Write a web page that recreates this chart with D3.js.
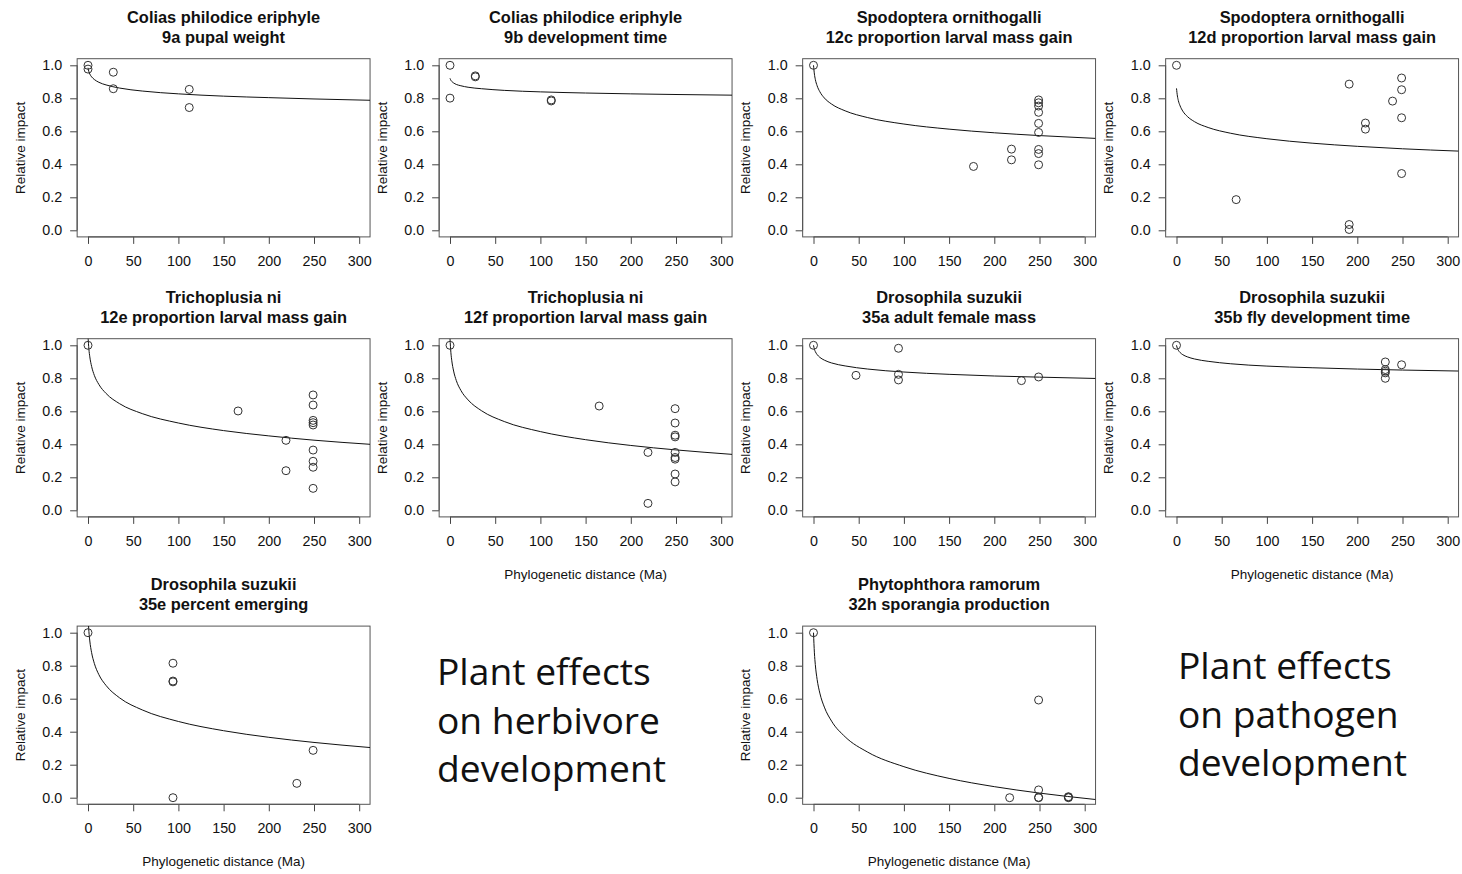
<!DOCTYPE html>
<html>
<head>
<meta charset="utf-8">
<script src="https://cdn.jsdelivr.net/npm/d3@7"></script>
<style>
  html, body { margin: 0; padding: 0; background: #fff; }
  svg { display: block; }
  text { font-family: "Liberation Sans", Arial, Helvetica, sans-serif; fill: #111; }
</style>
</head>
<body>
<script>
// ---------------- data ----------------
const titleSpecies = [
  "Colias philodice eriphyle", "Colias philodice eriphyle",
  "Spodoptera ornithogalli", "Spodoptera ornithogalli",
  "Trichoplusia ni", "Trichoplusia ni",
  "Drosophila suzukii", "Drosophila suzukii",
  "Drosophila suzukii", "Phytophthora ramorum"
];
const titleTrait = [
  "9a pupal weight", "9b development time",
  "12c proportion larval mass gain", "12d proportion larval mass gain",
  "12e proportion larval mass gain", "12f proportion larval mass gain",
  "35a adult female mass", "35b fly development time",
  "35e percent emerging", "32h sporangia production"
];
const pointsX = [
  [0, 0, 28, 28, 112, 112],
  [0, 0, 28, 28, 112, 112],
  [0, 177, 219, 219, 249, 249, 249, 249, 249, 249, 249, 249, 249],
  [0, 66, 191, 191, 191, 209, 209, 239, 249, 249, 249, 249],
  [0, 166, 219, 219, 249, 249, 249, 249, 249, 249, 249, 249, 249],
  [0, 165, 219, 219, 249, 249, 249, 249, 249, 249, 249, 249, 249],
  [0, 47, 94, 94, 94, 230, 249],
  [0, 231, 231, 231, 231, 231, 249],
  [0, 94, 94, 94, 94, 231, 249],
  [0, 217, 249, 249, 249, 249, 282, 282, 282]
];
const pointsY = [
  [1.0, 0.977, 0.958, 0.858, 0.854, 0.744],
  [1.0, 0.801, 0.936, 0.930, 0.790, 0.784],
  [1.0, 0.387, 0.492, 0.427, 0.79, 0.773, 0.753, 0.715, 0.648, 0.593, 0.49, 0.465, 0.397],
  [1.0, 0.186, 0.886, 0.035, 0.005, 0.650, 0.613, 0.783, 0.923, 0.852, 0.682, 0.344],
  [1.0, 0.602, 0.424, 0.240, 0.699, 0.638, 0.545, 0.531, 0.517, 0.365, 0.297, 0.261, 0.133],
  [1.0, 0.632, 0.351, 0.042, 0.616, 0.529, 0.455, 0.445, 0.351, 0.32, 0.31, 0.22, 0.172],
  [1.0, 0.818, 0.982, 0.824, 0.790, 0.786, 0.808],
  [1.0, 0.899, 0.853, 0.843, 0.833, 0.800, 0.882],
  [1.0, 0.815, 0.707, 0.702, 0.0, 0.087, 0.287],
  [1.0, 0.0, 0.592, 0.047, 0.0, 0.002, 0.003, 0.006, 0.0]
];
// fitted curve, read at these distances
const curveX = [0, 1, 2, 4, 7, 12, 20, 35, 60, 100, 150, 200, 250, 312];
const curveY = [
  [0.985, 0.961, 0.947, 0.930, 0.914, 0.897, 0.881, 0.862, 0.844, 0.827, 0.813, 0.804, 0.796, 0.788],
  [0.921, 0.909, 0.902, 0.893, 0.884, 0.876, 0.867, 0.858, 0.848, 0.839, 0.832, 0.827, 0.823, 0.819],
  [1.0, 0.947, 0.915, 0.876, 0.840, 0.802, 0.765, 0.724, 0.683, 0.644, 0.613, 0.591, 0.574, 0.557],
  [0.860, 0.814, 0.787, 0.754, 0.722, 0.690, 0.658, 0.623, 0.588, 0.555, 0.528, 0.509, 0.494, 0.480],
  [1.055, 0.976, 0.930, 0.872, 0.818, 0.763, 0.708, 0.646, 0.586, 0.529, 0.483, 0.451, 0.425, 0.400],
  [1.04, 0.955, 0.906, 0.844, 0.786, 0.727, 0.669, 0.603, 0.538, 0.477, 0.428, 0.393, 0.366, 0.339],
  [1.0, 0.976, 0.962, 0.944, 0.927, 0.910, 0.893, 0.875, 0.856, 0.838, 0.824, 0.814, 0.807, 0.799],
  [1.0, 0.981, 0.970, 0.956, 0.943, 0.930, 0.917, 0.903, 0.888, 0.874, 0.864, 0.856, 0.850, 0.844],
  [1.103, 1.007, 0.950, 0.879, 0.814, 0.746, 0.680, 0.605, 0.532, 0.462, 0.406, 0.366, 0.335, 0.304],
  [1.0, 0.878, 0.807, 0.717, 0.634, 0.549, 0.464, 0.369, 0.276, 0.188, 0.117, 0.067, 0.028, -0.011]
];
const xTicks = [0, 50, 100, 150, 200, 250, 300];
const yTicks = [0, 0.2, 0.4, 0.6, 0.8, 1.0];
const xAxisTitle = "Phylogenetic distance (Ma)";
const yAxisTitle = "Relative impact";
const panelsWithXTitle = [5, 7, 8, 9];
const noteHerbivore = ["Plant effects", "on herbivore", "development"];
const notePathogen = ["Plant effects", "on pathogen", "development"];

// ---------------- layout ----------------
const W = 1462, H = 874;
const panelCol = [0, 1, 2, 3, 0, 1, 2, 3, 0, 2];
const panelRow = [0, 0, 0, 0, 1, 1, 1, 1, 2, 2];
const colX0 = [88, 450, 813.5, 1176.5];   // pixel of x = 0
const rowY1 = [65.3, 345.3, 632.7];        // pixel of y = 1.0
const pxPerX = 0.904, pxPerY = 165;
const labFont = 13.5, tickFont = 14.3;

const svg = d3.select("body").append("svg").attr("width", W).attr("height", H);

titleSpecies.forEach((sp, i) => {
  const c = panelCol[i], r = panelRow[i];
  const x = d3.scaleLinear().domain([-12, 312]).range([colX0[c] - 12 * pxPerX, colX0[c] + 312 * pxPerX]);
  const y = d3.scaleLinear().domain([-0.04, 1.04]).range([rowY1[r] + 1.04 * pxPerY, rowY1[r] - 0.04 * pxPerY]);
  const [x0, x1] = x.range();
  const [yb, yt] = y.range();
  const g = svg.append("g");

  // clip
  const cid = "clip" + i;
  svg.append("clipPath").attr("id", cid).append("rect")
    .attr("x", x0).attr("y", yt).attr("width", x1 - x0).attr("height", yb - yt);

  // axes (R-style: ticks outward)
  const xa = g.append("g").attr("transform", `translate(0,${yb})`)
    .call(d3.axisBottom(x).tickValues(xTicks).tickSize(7).tickPadding(12).tickFormat(d3.format("d")));
  const ya = g.append("g").attr("transform", `translate(${x0},0)`)
    .call(d3.axisLeft(y).tickValues(yTicks).tickSize(7).tickPadding(8).tickFormat(d3.format(".1f")));
  [xa, ya].forEach(a => {
    a.select(".domain").remove();
    a.selectAll(".tick line").attr("stroke", "#444").attr("stroke-width", 1);
    a.selectAll(".tick text").attr("font-size", tickFont).attr("fill", "#222")
      .style("font-family", '"Liberation Sans", Arial, sans-serif');
  });
  g.append("line").attr("x1", x(0)).attr("x2", x(300)).attr("y1", yb).attr("y2", yb).attr("stroke", "#444");
  g.append("line").attr("x1", x0).attr("x2", x0).attr("y1", y(0)).attr("y2", y(1)).attr("stroke", "#444");

  // box
  g.append("rect").attr("x", x0).attr("y", yt).attr("width", x1 - x0).attr("height", yb - yt)
    .attr("fill", "none").attr("stroke", "#555").attr("stroke-width", 1);

  // curve
  const line = d3.line().x(d => x(d[0])).y(d => y(d[1])).curve(d3.curveMonotoneX);
  g.append("path").attr("clip-path", `url(#${cid})`)
    .datum(curveX.map((cx, k) => [cx, curveY[i][k]]))
    .attr("d", line).attr("fill", "none").attr("stroke", "#111").attr("stroke-width", 1);

  // points
  g.selectAll("circle.pt").data(pointsX[i].map((px, k) => [px, pointsY[i][k]]))
    .join("circle").attr("class", "pt")
    .attr("cx", d => x(d[0])).attr("cy", d => y(d[1])).attr("r", 4)
    .attr("fill", "none").attr("stroke", "#333").attr("stroke-width", 1);

  // titles
  const cx = (x0 + x1) / 2;
  g.append("text").attr("x", cx).attr("y", rowY1[r] - 48.3).attr("dy", "0.35em")
    .attr("text-anchor", "middle").attr("font-weight", "bold").attr("font-size", 16.4).text(sp);
  g.append("text").attr("x", cx).attr("y", rowY1[r] - 28.3).attr("dy", "0.35em")
    .attr("text-anchor", "middle").attr("font-weight", "bold").attr("font-size", 16.4).text(titleTrait[i]);

  // y title
  g.append("text").attr("transform", `translate(${x0 - 57},${(yt + yb) / 2}) rotate(-90)`)
    .attr("dy", "0.35em").attr("text-anchor", "middle").attr("font-size", labFont).text(yAxisTitle);

  // x title
  if (panelsWithXTitle.includes(i)) {
    g.append("text").attr("x", (x(0) + x(300)) / 2).attr("y", y(0) + 64).attr("dy", "0.35em")
      .attr("text-anchor", "middle").attr("font-size", labFont).text(xAxisTitle);
  }
});

// notes
function note(lines, x, y0) {
  const t = svg.append("g");
  lines.forEach((s, k) => {
    t.append("text").attr("x", x).attr("y", y0 + k * 48.7)
      .style("font-family", '"Open Sans", "Noto Sans", sans-serif')
      .attr("font-size", 37.2).attr("fill", "#000").text(s);
  });
}
note(noteHerbivore, 437, 685);
note(notePathogen, 1178, 679);
</script>
</body>
</html>
